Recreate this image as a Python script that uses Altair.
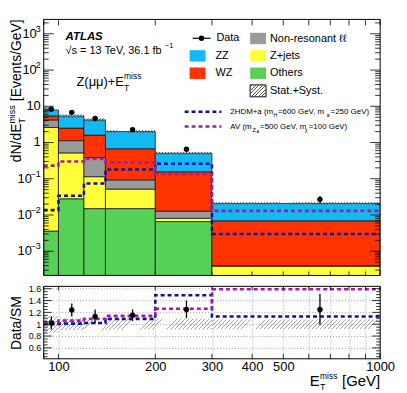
import math
import altair as alt
import pandas as pd

FONT = "Liberation Sans"

# ---------------- data ----------------
bin_lo = [90, 100, 120, 140, 200, 300]
bin_hi = [100, 120, 140, 200, 300, 1000]

proc_names = ["Others", "Z+jets", "Non-resonant ℓℓ", "WZ", "ZZ"]
proc_colors = ["#56d156", "#ffff3a", "#9a9a9a", "#ff3300", "#12b9f3"]
others = [0.0036, 0.028, 0.015, 0.015, 0.0066, 0.00015]
zjets = [2.6, 0.49, 0.099, 0.037, 0.0015, 0.00024]
nonres = [1.6, 0.61, 0.27, 0.041, 0.0047, 0.00001]
wz = [1.2, 1.37, 1.22, 0.58, 0.143, 0.0065]
zz = [2.5, 2.9, 2.6, 1.33, 0.35, 0.014]
unc = [0.14, 0.10, 0.10, 0.09, 0.09, 0.08]

data_x = [95, 110, 130, 170, 250, 650]
data_y = [8.3, 6.8, 4.6, 2.25, 0.65, 0.027]
data_err = [0.11, 0.10, 0.12, 0.10, 0.16, 0.23]

sig_2hdm = [0.0136, 0.034, 0.074, 0.18, 0.26, 0.003]
sig_av = [0.23, 0.30, 0.35, 0.28, 0.135, 0.013]

ratio_data = [1.02, 1.24, 1.13, 1.15, 1.25, 1.25]
ratio_err = [0.11, 0.11, 0.12, 0.10, 0.15, 0.26]
ratio_2hdm = [1.0, 1.01, 1.02, 1.09, 1.49, 1.13]
ratio_av = [1.03, 1.06, 1.09, 1.14, 1.26, 1.59]

# ---------------- layout ----------------
W, H1, H2 = 339, 258, 73
XDOM = [90, 1000]
YDOM = [2.15e-4, 2500]
RDOM = [0.415, 1.64]
xs = alt.Scale(type="log", domain=XDOM, nice=False)
ys = alt.Scale(type="log", domain=YDOM, nice=False)
rs = alt.Scale(domain=RDOM, nice=False, zero=False)

C2HDM = "#10109a"
CAV = "#a01ea0"
DASH = [4, 3]

ONE = pd.DataFrame({"o": [0]})


def hatch_grad(wpx, hpx, spacing=4.0, lw=0.9, color="#a6a6a6"):
    total = wpx + hpx
    clear = "rgba(255,255,255,0)"
    stops = [{"offset": 0, "color": clear}]
    c = spacing / 2
    while c + lw < total:
        o1, o2 = c / total, (c + lw) / total
        stops += [{"offset": o1, "color": clear}, {"offset": o1, "color": color},
                  {"offset": o2, "color": color}, {"offset": o2, "color": clear}]
        c += spacing
    stops.append({"offset": 1, "color": clear})
    s = total / (wpx ** 2 + hpx ** 2)
    return {"gradient": "linear", "x1": 0, "y1": 0, "x2": s * wpx, "y2": s * hpx, "stops": stops}


def wpx(lo, hi):
    return W * math.log10(hi / lo) / math.log10(XDOM[1] / XDOM[0])


def T(text, x, y, size=11, align="left", baseline="middle", angle=0, weight="normal",
      style="normal", color="black", dy=0):
    return alt.Chart(ONE).mark_text(
        text=text, align=align, baseline=baseline, angle=angle, fontSize=size,
        fontWeight=weight, fontStyle=style, color=color, font=FONT, dy=dy
    ).encode(x=alt.value(x), y=alt.value(y))


def box(x1, x2, y1, y2, fill, stroke=None):
    kw = {"fill": fill}
    if stroke:
        kw.update(stroke=stroke, strokeWidth=1)
    return alt.Chart(ONE).mark_rect(**kw).encode(
        x=alt.value(x1), x2=alt.value(x2), y=alt.value(y1), y2=alt.value(y2))


def hline(x1, x2, y, color, dash=None, width=1.2):
    kw = {"color": color, "strokeWidth": width}
    if dash:
        kw["strokeDash"] = dash
    return alt.Chart(ONE).mark_rule(**kw).encode(
        x=alt.value(x1), x2=alt.value(x2), y=alt.value(y))


# ---------------- tables ----------------
rows = []
for i, vals in enumerate([others, zjets, nonres, wz, zz]):
    for lo, hi, v, u in zip(bin_lo, bin_hi, vals, unc):
        rows.append({"proc": proc_names[i], "order": i, "lo": lo, "hi": hi, "value": v, "unc": u})
proc_df = pd.DataFrame(rows)
bins_df = pd.DataFrame({"lo": bin_lo, "hi": bin_hi, "unc": unc})
pts_df = pd.DataFrame({"x": data_x, "y": data_y, "err": data_err})
edges = bin_lo + [bin_hi[-1]]
s2_df = pd.DataFrame({"x": edges, "y": sig_2hdm + [sig_2hdm[-1]]})
sa_df = pd.DataFrame({"x": edges, "y": sig_av + [sig_av[-1]]})
rpts_df = pd.DataFrame({"x": data_x, "y": ratio_data, "err": ratio_err})
r2_df = pd.DataFrame({"x": edges, "y": ratio_2hdm + [ratio_2hdm[-1]]})
ra_df = pd.DataFrame({"x": edges, "y": ratio_av + [ratio_av[-1]]})

xticks = [90, 100, 200, 300, 400, 500, 600, 700, 800, 900, 1000]
ymaj = [10.0 ** k for k in range(-3, 4)]
ymin = [m * 10.0 ** k for k in range(-4, 4) for m in range(2, 10)
        if YDOM[0] < m * 10.0 ** k < YDOM[1]]
rmaj = [0.6, 0.8, 1.0, 1.2, 1.4, 1.6]
rmin = [round(0.45 + 0.05 * i, 2) for i in range(24) if round(0.45 + 0.05 * i, 2) not in rmaj]

# ---------------- top panel ----------------
X = lambda f: alt.X(f, scale=xs, axis=None, title=None)
Y = lambda f: alt.Y(f, scale=ys, axis=None, title=None)

top_layers = []
top_layers.append(
    alt.Chart(proc_df)
    .transform_stack(stack="value", groupby=["lo"], as_=["y0", "y1"],
                     sort=[alt.SortField(field="order", order="ascending")])
    .transform_calculate(yb="max(datum.y0, 1e-6)")
    .mark_rect(clip=True, stroke="#1a1a1a", strokeWidth=0.8)
    .encode(x=X("lo:Q"), x2="hi:Q", y=Y("y1:Q"), y2="yb:Q",
            color=alt.Color("proc:N", scale=alt.Scale(domain=proc_names, range=proc_colors), legend=None))
)
ylog = math.log10(YDOM[1] / YDOM[0])
for lo, hi, u in zip(bin_lo, bin_hi, unc):
    hp = H1 * math.log10((1 + u) / (1 - u)) / ylog
    top_layers.append(
        alt.Chart(proc_df)
        .transform_filter(f"datum.lo == {lo}")
        .transform_aggregate(total="sum(value)", u="max(unc)", groupby=["lo", "hi"])
        .transform_calculate(up="datum.total*(1+datum.u)", dn="datum.total*(1-datum.u)")
        .mark_rect(fill=hatch_grad(wpx(lo, hi), hp, spacing=3.0, color="#5a5a5a"), clip=True)
        .encode(x=X("lo:Q"), x2="hi:Q", y=Y("up:Q"), y2="dn:Q")
    )
for d, col in ((s2_df, C2HDM), (sa_df, CAV)):
    top_layers.append(
        alt.Chart(d).mark_line(interpolate="step-after", strokeWidth=2.6, strokeDash=DASH,
                               clip=True, color=col)
        .encode(x=X("x:Q"), y=Y("y:Q"))
    )
top_layers.append(
    alt.Chart(pts_df).transform_calculate(lo="datum.y*(1-datum.err)", hi="datum.y*(1+datum.err)")
    .mark_rule(color="black", strokeWidth=1.2).encode(x=X("x:Q"), y=Y("lo:Q"), y2="hi:Q")
)
top_layers.append(alt.Chart(pts_df).mark_circle(color="black", size=30, opacity=1)
                  .encode(x=X("x:Q"), y=Y("y:Q")))
# ticks (inside)
top_layers.append(alt.Chart(pd.DataFrame({"v": ymaj})).mark_rule(color="black", strokeWidth=0.8)
                  .encode(y=Y("v:Q"), x=alt.value(0), x2=alt.value(10)))
top_layers.append(alt.Chart(pd.DataFrame({"v": ymaj})).mark_rule(color="black", strokeWidth=0.8)
                  .encode(y=Y("v:Q"), x=alt.value(W - 10), x2=alt.value(W)))
top_layers.append(alt.Chart(pd.DataFrame({"v": ymin})).mark_rule(color="black", strokeWidth=0.8)
                  .encode(y=Y("v:Q"), x=alt.value(0), x2=alt.value(5)))
top_layers.append(alt.Chart(pd.DataFrame({"v": ymin})).mark_rule(color="black", strokeWidth=0.8)
                  .encode(y=Y("v:Q"), x=alt.value(W - 5), x2=alt.value(W)))
top_layers.append(alt.Chart(pd.DataFrame({"v": xticks})).mark_rule(color="black", strokeWidth=0.8)
                  .encode(x=X("v:Q"), y=alt.value(0), y2=alt.value(6)))
top_layers.append(alt.Chart(pd.DataFrame({"v": xticks})).mark_rule(color="black", strokeWidth=0.8)
                  .encode(x=X("v:Q"), y=alt.value(H1 - 4), y2=alt.value(H1)))
# y tick labels
top_layers.append(alt.Chart(pd.DataFrame({"v": [100.0, 1000.0]})).mark_text(
    text="10", align="right", baseline="middle", fontSize=13, font=FONT).encode(y=Y("v:Q"), x=alt.value(-7)))
top_layers.append(alt.Chart(pd.DataFrame({"v": [100.0, 1000.0], "t": ["2", "3"]})).mark_text(
    align="right", baseline="middle", fontSize=9, font=FONT, dy=-5).encode(y=Y("v:Q"), x=alt.value(-3), text="t:N"))
top_layers.append(alt.Chart(pd.DataFrame({"v": [0.1, 0.01, 0.001]})).mark_text(
    text="10", align="right", baseline="middle", fontSize=13, font=FONT).encode(y=Y("v:Q"), x=alt.value(-12)))
top_layers.append(alt.Chart(pd.DataFrame({"v": [0.1, 0.01, 0.001], "t": ["−1", "−2", "−3"]})).mark_text(
    align="right", baseline="middle", fontSize=9, font=FONT, dy=-5).encode(y=Y("v:Q"), x=alt.value(-3), text="t:N"))
top_layers.append(alt.Chart(pd.DataFrame({"v": [1.0, 10.0], "t": ["1", "10"]})).mark_text(
    align="right", baseline="middle", fontSize=13, font=FONT).encode(y=Y("v:Q"), x=alt.value(-3), text="t:N"))
# frame
top_layers.append(alt.Chart(ONE).mark_rect(fillOpacity=0, stroke="black", strokeWidth=1)
                  .encode(x=alt.value(0), x2=alt.value(W), y=alt.value(0), y2=alt.value(H1)))
# y title (rotated)
top_layers += [
    T("[Events/GeV]", -23, 0, size=14, align="right", baseline="alphabetic", angle=270),
    T("miss", -29, 105, size=9, align="left", baseline="alphabetic", angle=270),
    T("T", -19, 105, size=9, align="left", baseline="alphabetic", angle=270),
    T("dN/dE", -23, 105, size=14, align="right", baseline="alphabetic", angle=270),
]
# annotations
top_layers += [
    T("ATLAS", 22, 18, size=11.5, weight="bold", style="italic"),
    T("√s = 13 TeV, 36.1 fb", 22, 32, size=11),
    T("−1", 122, 27, size=7.5),
    T("Z(μμ)+E", 33, 63, size=13),
    T("miss", 81, 57, size=8.5),
    T("T", 81, 69, size=8.5),
]
# legend
top_layers += [
    hline(150, 168, 19, "black", width=1.2),
    alt.Chart(ONE).mark_circle(color="black", size=30, opacity=1).encode(x=alt.value(159), y=alt.value(19)),
    T("Data", 174, 19, size=11),
    box(147, 163, 31, 42.5, proc_colors[4]), T("ZZ", 173, 37, size=11),
    box(147, 163, 48.5, 60, proc_colors[3]), T("WZ", 173, 54.5, size=11),
    box(208, 224, 13.5, 25, proc_colors[2]), T("Non-resonant ℓℓ", 228, 19.5, size=11),
    box(208, 224, 31, 42.5, proc_colors[1]), T("Z+jets", 228, 37, size=11),
    box(208, 224, 48.5, 60, proc_colors[0]), T("Others", 228, 54.5, size=11),
    box(208, 224, 66, 78, "white", stroke="black"),
    alt.Chart(ONE).mark_rect(fill=hatch_grad(16, 12, spacing=3.5, color="#555555")).encode(
        x=alt.value(208), x2=alt.value(224), y=alt.value(66), y2=alt.value(78)),
    T("Stat.+Syst.", 228, 72, size=11),
    hline(142, 179, 93, C2HDM, dash=DASH, width=2.6),
    T("2HDM+a (m", 188, 93, size=8), T("H", 231.5, 96, size=5.5),
    T("=600 GeV,  m", 236, 93, size=8), T("a", 285, 96, size=5.5),
    T("=250 GeV)", 289, 93, size=8),
    hline(142, 179, 108, CAV, dash=DASH, width=2.6),
    T("AV (m", 188, 108, size=8), T("Z", 210.5, 111, size=5.5), T("A", 214.5, 113, size=4),
    T("=500 GeV, m", 218, 108, size=8), T("χ", 263, 111, size=5.5),
    T("=100 GeV)", 267, 108, size=8),
]
top = alt.layer(*top_layers).properties(width=W, height=H1)

# ---------------- ratio panel ----------------
xax = alt.Axis(values=[100, 200, 300, 400, 500, 600, 700, 800, 900, 1000], format="d",
               labelExpr="(datum.value==600||datum.value==700||datum.value==800||datum.value==900) ? '' : datum.label",
               labelFontSize=13, labelFont=FONT, labelColor="black", tickSize=0, domain=False,
               grid=True, gridDash=[1, 2], gridColor="#8a8a8a", gridWidth=0.8, labelPadding=2,
               labelFlush=False, labelOverlap=False, title=None)
rax = alt.Axis(values=rmaj, format=".1~f", labelFontSize=9, labelFont=FONT, labelColor="black",
               tickSize=0, domain=False, grid=True, gridDash=[1, 2], gridColor="#8a8a8a",
               gridWidth=0.8, labelPadding=3, title=None)
RX = lambda f: alt.X(f, scale=xs, axis=xax, title=None)
RY = lambda f: alt.Y(f, scale=rs, axis=rax, title=None)

bot_layers = []
rspan = RDOM[1] - RDOM[0]
for lo, hi, u in zip(bin_lo, bin_hi, unc):
    hp = H2 * 2 * u / rspan
    bot_layers.append(
        alt.Chart(bins_df).transform_filter(f"datum.lo == {lo}")
        .transform_calculate(bl="1-datum.unc", bh="1+datum.unc")
        .mark_rect(fill=hatch_grad(wpx(lo, hi), hp))
        .encode(x=RX("lo:Q"), x2="hi:Q", y=RY("bh:Q"), y2="bl:Q")
    )
for d, col in ((r2_df, C2HDM), (ra_df, CAV)):
    bot_layers.append(
        alt.Chart(d).mark_line(interpolate="step-after", strokeWidth=2.6, strokeDash=DASH,
                               clip=True, color=col)
        .encode(x=RX("x:Q"), y=RY("y:Q"))
    )
bot_layers.append(
    alt.Chart(rpts_df).transform_calculate(lo="datum.y-datum.err", hi="datum.y+datum.err")
    .mark_rule(color="black", strokeWidth=1.3).encode(x=RX("x:Q"), y=RY("lo:Q"), y2="hi:Q")
)
bot_layers.append(alt.Chart(rpts_df).mark_circle(color="black", size=30, opacity=1)
                  .encode(x=RX("x:Q"), y=RY("y:Q")))
bot_layers.append(alt.Chart(pd.DataFrame({"v": rmaj})).mark_rule(color="black", strokeWidth=0.8)
                  .encode(y=RY("v:Q"), x=alt.value(0), x2=alt.value(8)))
bot_layers.append(alt.Chart(pd.DataFrame({"v": rmaj})).mark_rule(color="black", strokeWidth=0.8)
                  .encode(y=RY("v:Q"), x=alt.value(W - 8), x2=alt.value(W)))
bot_layers.append(alt.Chart(pd.DataFrame({"v": rmin})).mark_rule(color="black", strokeWidth=0.8)
                  .encode(y=RY("v:Q"), x=alt.value(0), x2=alt.value(4)))
bot_layers.append(alt.Chart(pd.DataFrame({"v": rmin})).mark_rule(color="black", strokeWidth=0.8)
                  .encode(y=RY("v:Q"), x=alt.value(W - 4), x2=alt.value(W)))
bot_layers.append(alt.Chart(pd.DataFrame({"v": xticks})).mark_rule(color="black", strokeWidth=0.8)
                  .encode(x=RX("v:Q"), y=alt.value(H2 - 5), y2=alt.value(H2)))
bot_layers.append(alt.Chart(pd.DataFrame({"v": xticks})).mark_rule(color="black", strokeWidth=0.8)
                  .encode(x=RX("v:Q"), y=alt.value(0), y2=alt.value(4)))
bot_layers.append(alt.Chart(ONE).mark_rect(fillOpacity=0, stroke="black", strokeWidth=1)
                  .encode(x=alt.value(0), x2=alt.value(W), y=alt.value(0), y2=alt.value(H2)))
bot_layers += [
    T("Data/SM", -23, 37, size=14, align="center", baseline="alphabetic", angle=270),
    T("E", 268, 100, size=15, baseline="alphabetic"),
    T("miss", 278.5, 93, size=8.5, baseline="alphabetic"),
    T("T", 278.5, 104.5, size=9, baseline="alphabetic"),
    T("[GeV]", 339, 100, size=15, align="right", baseline="alphabetic"),
]
bottom = alt.layer(*bot_layers).properties(width=W, height=H2)

chart = alt.vconcat(top, bottom, spacing=8).properties(
    padding={"left": 0, "top": 9, "right": 4, "bottom": 0}
).configure(font=FONT).configure_view(stroke=None)

chart.save("out.html", embed_options={"renderer": "svg", "actions": False})
